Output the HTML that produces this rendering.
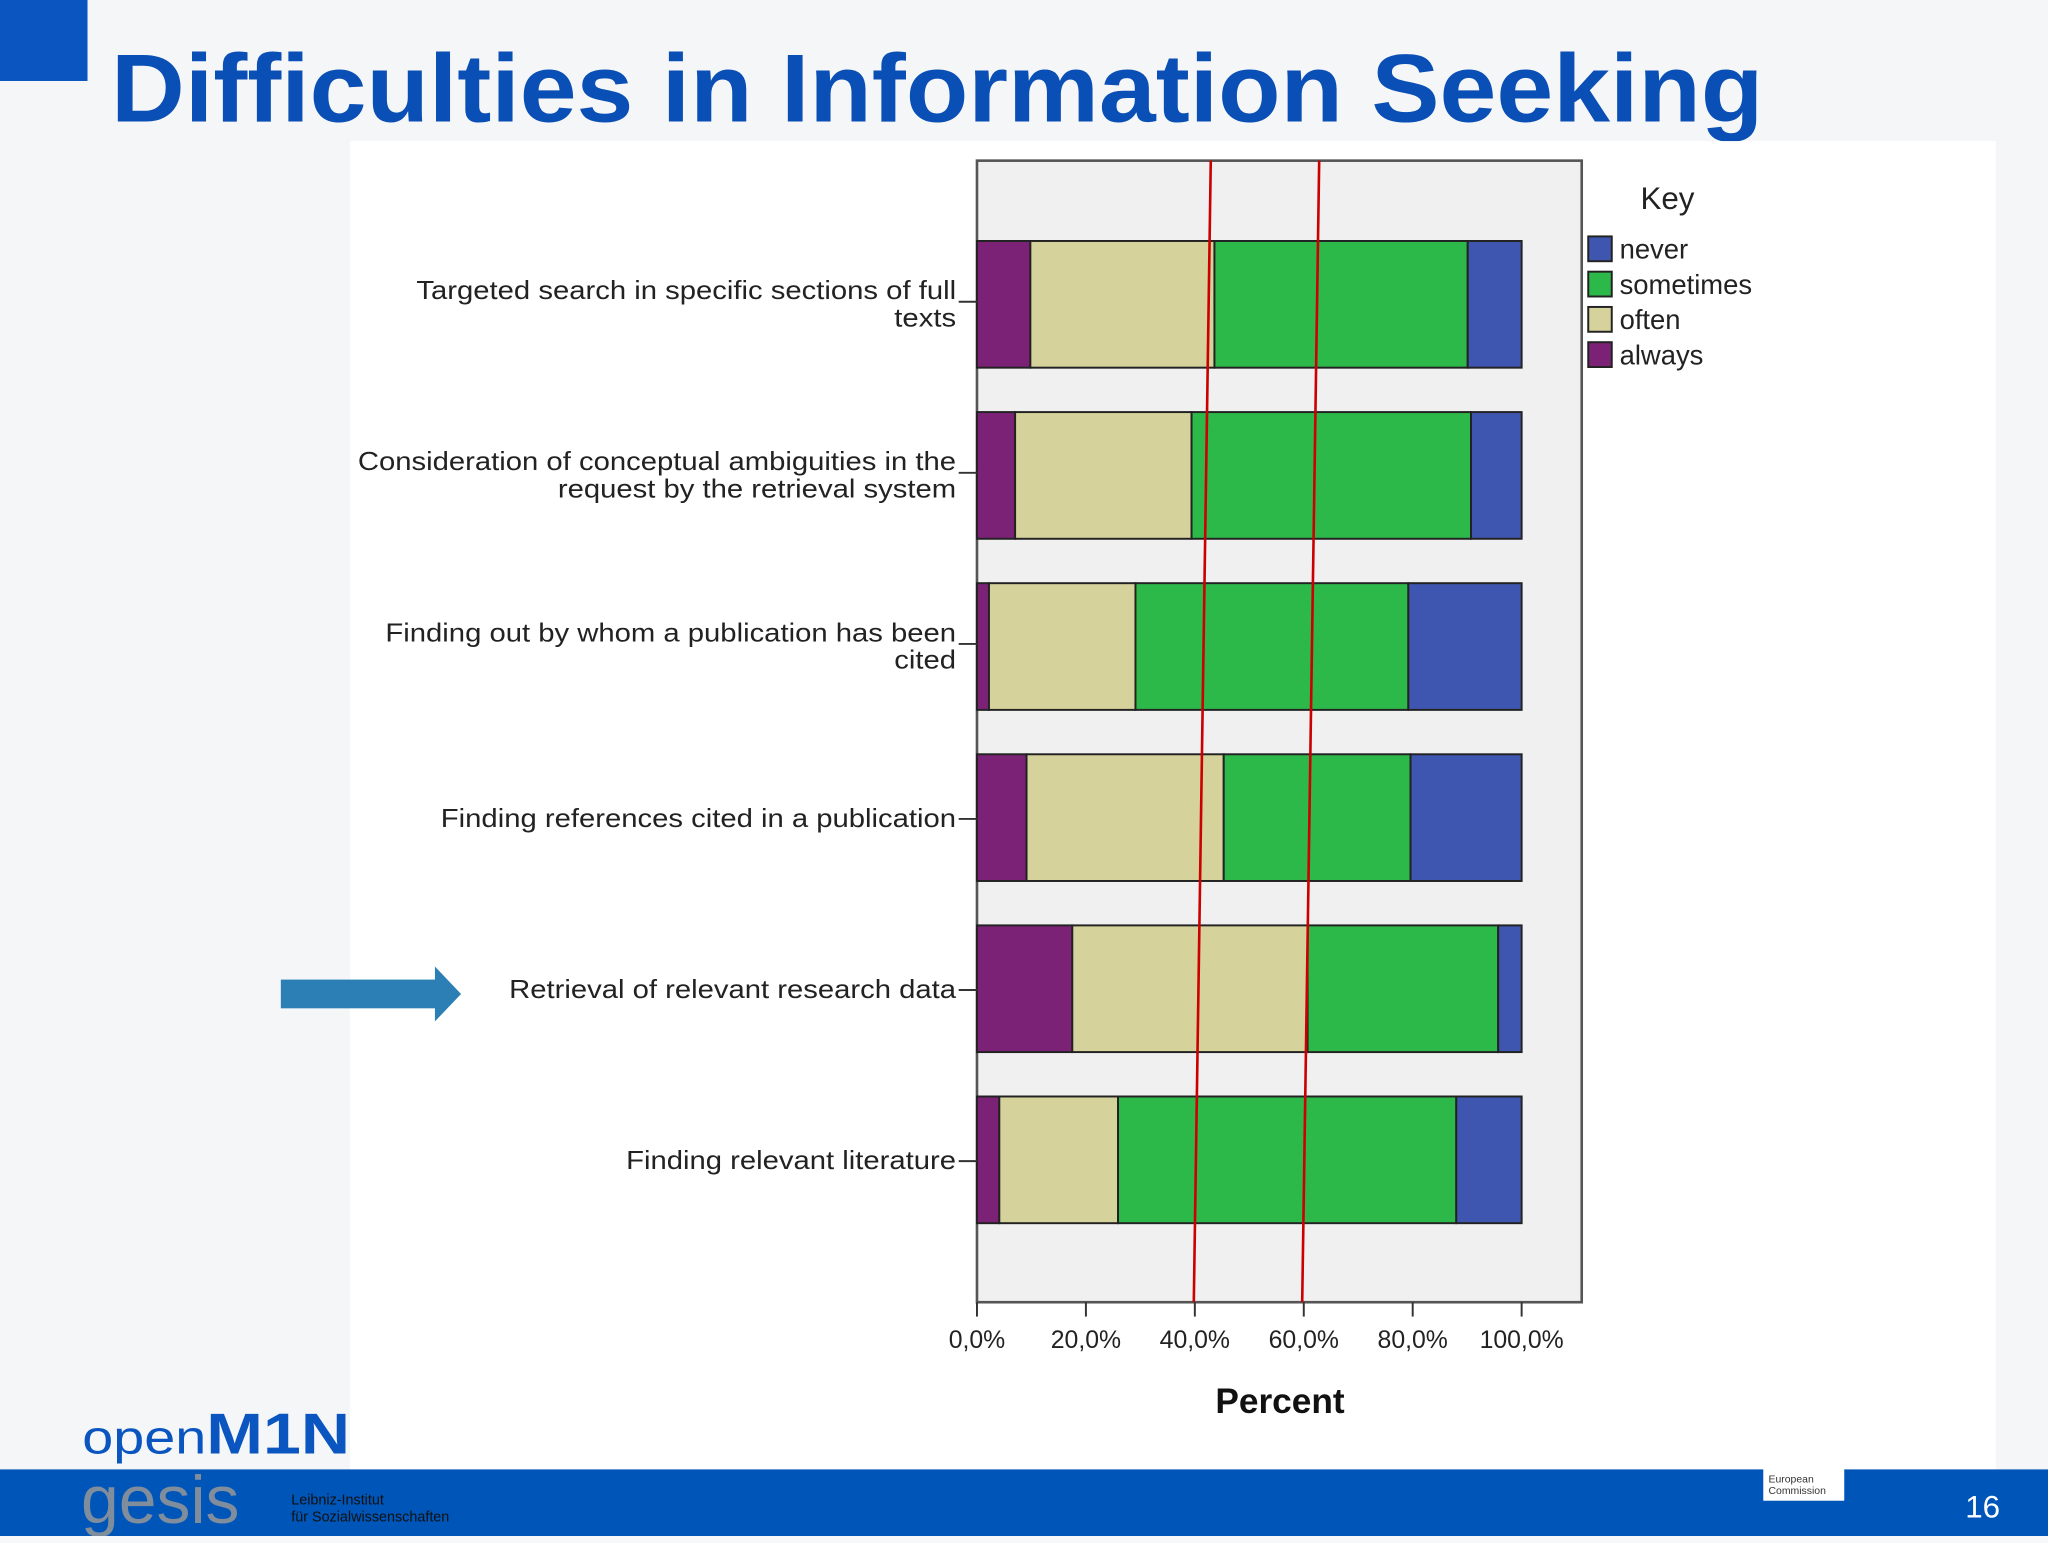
<!DOCTYPE html>
<html><head><meta charset="utf-8">
<style>
html,body{margin:0;padding:0;width:2048px;height:1536px;overflow:hidden;background:#f7f8fa;}
#wrap{position:absolute;left:0;top:0;width:1568px;height:1176px;transform:scale(1.306122);transform-origin:0 0;font-family:"Liberation Sans",sans-serif;}
</style></head><body>
<div id="wrap">
<svg width="1568" height="1176" viewBox="0 0 1568 1176" xmlns="http://www.w3.org/2000/svg" font-family="Liberation Sans, sans-serif">
  <rect x="0" y="0" width="1568" height="1176" fill="#f5f6f8"/>
  <rect x="0" y="0" width="67" height="62" fill="#0a55c0"/>
  <text x="85" y="93" font-size="74" font-weight="bold" fill="#0a4fb5" textLength="1265" lengthAdjust="spacingAndGlyphs">Difficulties in Information Seeking</text>
  <rect x="268" y="108" width="1260" height="1017" fill="#ffffff"/>
  <rect x="748" y="123" width="463" height="874" fill="#f0f0f0" stroke="#555" stroke-width="2"/>
  <g id="bars"></g>
  <g id="ticks"></g>
  <g id="cats"></g>
  <line x1="927" y1="123" x2="914" y2="997" stroke="#cc0000" stroke-width="2"/>
  <line x1="1010" y1="123" x2="997" y2="997" stroke="#cc0000" stroke-width="2"/>
  <text x="980" y="1082" font-size="27" font-weight="bold" text-anchor="middle" fill="#111">Percent</text>
  <g>
    <text x="1256" y="160" font-size="24" fill="#222">Key</text>
    <g id="legend"></g>
  </g>
  <g>
    <rect x="215" y="750" width="120" height="22" fill="#2b7fb5"/>
    <polygon points="333,740 353,761 333,782" fill="#2b7fb5"/>
  </g>
  <text x="63" y="1113" font-size="36" fill="#0a55c0" textLength="205" lengthAdjust="spacingAndGlyphs">open<tspan font-weight="bold" font-size="44">M1N</tspan></text>
  <rect x="0" y="1125" width="1568" height="51" fill="#0055b8"/>
  <text x="62" y="1166" font-size="52" fill="#7f8d9c">gesis</text>
  <text x="223" y="1152" font-size="11" fill="#111">Leibniz-Institut</text>
  <text x="223" y="1165" font-size="11" fill="#111">für Sozialwissenschaften</text>
  <rect x="1350" y="1122" width="62" height="27" fill="#fff"/>
  <text x="1354" y="1135" font-size="8" fill="#333">European</text>
  <text x="1354" y="1144" font-size="8" fill="#333">Commission</text>
  <text x="1518" y="1162" font-size="24" fill="#fff" text-anchor="middle">16</text>
</svg>
</div>
<script>
const categories=["Targeted search in specific sections of full|texts","Consideration of conceptual ambiguities in the|request by the retrieval system","Finding out by whom a publication has been|cited","Finding references cited in a publication","Retrieval of relevant research data","Finding relevant literature"];
const always=[9.8,7.0,2.2,9.1,17.5,4.1];
const often=[33.8,32.4,26.9,36.2,43.2,21.8];
const sometimes=[46.5,51.3,50.1,34.3,35.0,62.1];
const never=[9.9,9.3,20.8,20.4,4.3,12.0];
const tickLabels=["0,0%","20,0%","40,0%","60,0%","80,0%","100,0%"];
const tickValues=[0,20,40,60,80,100];
const seriesNames=["never","sometimes","often","always"];
const colors={always:"#7b2277",often:"#d6d29b",sometimes:"#2db84a",never:"#3f56b0"};
const NS="http://www.w3.org/2000/svg";
function x(v){return 748+v*4.17;}
function yc(i){return 233+i*131;}
const BH=97;
const bars=document.getElementById('bars');
const order=[["always",always],["often",often],["sometimes",sometimes],["never",never]];
categories.forEach((c,i)=>{
  let acc=0;
  order.forEach(([n,arr])=>{
    const r=document.createElementNS(NS,'rect');
    r.setAttribute('x',x(acc));r.setAttribute('width',x(acc+arr[i])-x(acc));
    r.setAttribute('y',yc(i)-BH/2);r.setAttribute('height',BH);
    r.setAttribute('fill',colors[n]);r.setAttribute('stroke','#222');r.setAttribute('stroke-width','1.5');
    
    
    bars.appendChild(r);acc+=arr[i];
  });
});
const ticks=document.getElementById('ticks');
tickValues.forEach((v,k)=>{
  const l=document.createElementNS(NS,'line');
  l.setAttribute('x1',x(v));l.setAttribute('x2',x(v));l.setAttribute('y1',997);l.setAttribute('y2',1008);
  l.setAttribute('stroke','#333');l.setAttribute('stroke-width','1.5');
  
  
  ticks.appendChild(l);
  const t=document.createElementNS(NS,'text');
  t.setAttribute('x',x(v));t.setAttribute('y',1032);t.setAttribute('font-size','19');
  t.setAttribute('text-anchor','middle');t.setAttribute('fill','#222');
  t.textContent=tickLabels[k];
  
  
  ticks.appendChild(t);
});
const cats=document.getElementById('cats');
categories.forEach((c,i)=>{
  const lines=c.split('|');
  const y0=yc(i)-(lines.length-1)*11;
  const l=document.createElementNS(NS,'line');
  l.setAttribute('x1',734);l.setAttribute('x2',748);l.setAttribute('y1',yc(i)-(lines.length>1?2:-1));l.setAttribute('y2',yc(i)-(lines.length>1?2:-1));
  l.setAttribute('stroke','#333');l.setAttribute('stroke-width','1.5');
  
  
  cats.appendChild(l);
  lines.forEach((s,j)=>{
    const t=document.createElementNS(NS,'text');
    t.setAttribute('x',732);t.setAttribute('y',y0+j*21+7);t.setAttribute('font-size','20');
    t.setAttribute('text-anchor','end');t.setAttribute('fill','#222');
    t.textContent=s;
    
    
    cats.appendChild(t);
    const w=t.getComputedTextLength();
    if(w>0){t.setAttribute('textLength',(w*1.12).toFixed(1));t.setAttribute('lengthAdjust','spacingAndGlyphs');}
  });
});
const lg=document.getElementById('legend');
seriesNames.forEach((n,k)=>{
  const r=document.createElementNS(NS,'rect');
  r.setAttribute('x',1216);r.setAttribute('y',181+k*27);r.setAttribute('width',18);r.setAttribute('height',19);
  r.setAttribute('fill',colors[n]);r.setAttribute('stroke','#222');r.setAttribute('stroke-width','1.5');
  
  
  lg.appendChild(r);
  const t=document.createElementNS(NS,'text');
  t.setAttribute('x',1240);t.setAttribute('y',198+k*27);t.setAttribute('font-size','21');t.setAttribute('fill','#222');
  t.textContent=n;
  
  
  lg.appendChild(t);
});
</script>
</body></html>
